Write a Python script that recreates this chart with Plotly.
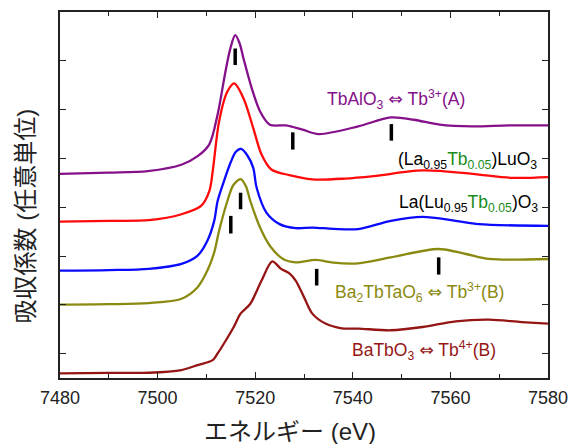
import plotly.graph_objects as go

# ---------------- data ----------------
e_tbalo3 = [7480, 7490, 7498, 7505, 7508.2, 7510.6, 7512.3, 7513.9, 7514.9, 7515.9, 7516.8, 7517.6, 7519.3,
            7521, 7523, 7526.3, 7529.7, 7533, 7541.1, 7547.8, 7552.5, 7557.8, 7564.5, 7572, 7580]
a_tbalo3 = [4.184, 4.208, 4.239, 4.375, 4.545, 4.789, 5.400, 6.277, 6.75, 7.025, 6.86, 6.548, 5.936,
            5.462, 5.191, 5.176, 5.089, 4.999, 5.156, 5.339, 5.292, 5.191, 5.156, 5.176, 5.176]

e_lalu = [7480, 7490, 7498.2, 7504.9, 7508.9, 7510.6, 7511.3, 7512.6, 7514.3, 7515.7, 7517.6, 7519.6,
          7521.3, 7523.3, 7527, 7531.7, 7538.4, 7544.3, 7554.3, 7564.5, 7572.6, 7580]
a_lalu = [3.206, 3.220, 3.234, 3.356, 3.526, 3.831, 4.239, 5.258, 5.869, 6.038, 5.733, 5.121,
          4.579, 4.273, 4.157, 4.070, 4.086, 4.137, 4.253, 4.184, 4.102, 4.117]

e_lulu = [7480, 7490, 7498.2, 7504.9, 7508.2, 7510.2, 7511.6, 7512.3, 7513.6, 7514.9, 7516.0, 7517.1,
          7518.4, 7519.6, 7520.3, 7522.3, 7525, 7528.3, 7531.7, 7536, 7541.1, 7547.8, 7554.3, 7561.1,
          7565.8, 7580]
a_lulu = [2.201, 2.211, 2.236, 2.338, 2.507, 2.812, 3.220, 3.627, 4.035, 4.40, 4.63, 4.693,
          4.56, 4.306, 3.898, 3.389, 3.153, 3.071, 3.083, 3.057, 3.051, 3.220, 3.301, 3.220,
          3.153, 3.118]

e_ba2 = [7480, 7490, 7498.2, 7504.9, 7508.2, 7510.2, 7511.6, 7512.6, 7514.3, 7515.5, 7517, 7518.1,
         7519, 7521, 7523, 7525.7, 7528.3, 7532.4, 7536, 7541.1, 7547.8, 7557.5, 7563.2, 7567.9, 7580]
a_ba2 = [1.502, 1.512, 1.535, 1.624, 1.861, 2.201, 2.574, 3.016, 3.627, 3.95, 4.076, 3.93,
         3.627, 3.083, 2.710, 2.439, 2.370, 2.419, 2.364, 2.350, 2.472, 2.643, 2.541, 2.439, 2.439]

e_batb = [7480, 7490, 7498.2, 7504.9, 7508.2, 7511.3, 7512.3, 7513.6, 7515.6, 7517, 7519, 7521.3, 7523.5,
          7525.3, 7527, 7528.3, 7530, 7531.7, 7534.4, 7537.7, 7541.1, 7547.8, 7554.3, 7561.1,
          7567.9, 7574.6, 7580]
a_batb = [0.096, 0.106, 0.108, 0.163, 0.265, 0.367, 0.503, 0.707, 1.045, 1.319, 1.522, 1.997, 2.390,
          2.236, 2.146, 1.997, 1.657, 1.319, 1.115, 1.019, 1.013, 0.978, 1.045, 1.162,
          1.196, 1.147, 1.115]

# feature markers (energy, lower, upper)
mark_e = [7515.9, 7527.7, 7547.9, 7517.0, 7515.0, 7532.6, 7557.6]
mark_lo = [6.413, 4.681, 4.864, 3.458, 2.961, 1.895, 2.119]
mark_hi = [6.752, 5.034, 5.203, 3.797, 3.322, 2.236, 2.472]

x_ticks = [7480, 7500, 7520, 7540, 7560, 7580]

series = [
    (e_tbalo3, a_tbalo3, "#85108a"),
    (e_lalu, a_lalu, "#ff0a0a"),
    (e_lulu, a_lulu, "#0a0aff"),
    (e_ba2, a_ba2, "#8a8a10"),
    (e_batb, a_batb, "#951515"),
]

fig = go.Figure()
for ex, ay, col in series:
    fig.add_trace(go.Scatter(x=ex, y=ay, mode="lines",
                             line=dict(color=col, width=2.3, shape="spline", smoothing=0.85),
                             showlegend=False, hoverinfo="skip"))

mx, my = [], []
for e, lo, hi in zip(mark_e, mark_lo, mark_hi):
    mx += [e, e, None]
    my += [lo, hi, None]
fig.add_trace(go.Scatter(x=mx, y=my, mode="lines", line=dict(color="black", width=3.5),
                         showlegend=False, hoverinfo="skip"))

F = "Liberation Sans, Arial, sans-serif"
G = "#1a8c1a"
ARROW = "<span style='font-family:DejaVu Sans'>⇔</span>"
ann = [
    dict(x=7534.4, y=5.706, text="TbAlO<sub>3</sub> %s Tb<sup>3+</sup>(A)" % ARROW, color="#85108a"),
    dict(x=7548.9, y=4.463,
         text="(La<sub>0.95</sub><span style='color:%s'>Tb<sub>0.05</sub></span>)LuO<sub>3</sub>" % G,
         color="black"),
    dict(x=7549.0, y=3.566,
         text="La(Lu<sub>0.95</sub><span style='color:%s'>Tb<sub>0.05</sub></span>)O<sub>3</sub>" % G,
         color="black"),
    dict(x=7536.0, y=1.759, text="Ba<sub>2</sub>TbTaO<sub>6</sub> %s Tb<sup>3+</sup>(B)" % ARROW,
         color="#8a8a10"),
    dict(x=7539.4, y=0.571, text="BaTbO<sub>3</sub> %s Tb<sup>4+</sup>(B)" % ARROW, color="#951515"),
]
for a in ann:
    fig.add_annotation(x=a["x"], y=a["y"], text=a["text"], showarrow=False,
                       xanchor="left", yanchor="middle",
                       font=dict(family=F, size=17.5, color=a["color"]))

# pixel-placed axis titles converted to paper coordinates
L, R, T, B = 60, 21, 10, 66
W, H = 578, 444
pw, ph = W - L - R, H - T - B


def px2paper(px, py):
    return (px - L) / pw, (H - B - py) / ph


tx, ty = px2paper(294, 432)
fig.add_annotation(x=tx, y=ty, xref="paper", yref="paper", text="エネルギー (eV)",
                   showarrow=False, xanchor="center", yanchor="middle",
                   font=dict(family="Liberation Sans, Noto Sans CJK JP", size=24, color="#222"))
tx, ty = px2paper(25, 215)
fig.add_annotation(x=tx, y=ty, xref="paper", yref="paper", text="吸収係数 (任意単位)",
                   showarrow=False, textangle=-90, xanchor="center", yanchor="middle",
                   font=dict(family="Liberation Sans, Noto Sans CJK JP", size=24, color="#222"))

fig.update_layout(
    width=W, height=H, margin=dict(l=L, r=R, t=T, b=B),
    plot_bgcolor="white", paper_bgcolor="white",
    xaxis=dict(range=[7480, 7580], tickvals=x_ticks, ticks="inside", ticklen=6, tickwidth=1.3,
               tickcolor="#222", showline=True, linecolor="#222", linewidth=1.5, mirror="ticks",
               showgrid=False, zeroline=False, tickfont=dict(family=F, size=18, color="#222"),
               minor=dict(dtick=10, tick0=7480, ticks="inside", ticklen=4, tickwidth=1.2,
                          tickcolor="#222", showgrid=False),
               ticklabelstandoff=3),
    yaxis=dict(range=[0, 7.5], tick0=0.5, dtick=1, ticks="inside", ticklen=6, tickwidth=1.3,
               tickcolor="#222", showline=True, linecolor="#222", linewidth=1.5, mirror="ticks",
               showgrid=False, zeroline=False, showticklabels=False),
)

fig.write_html("out.html")
